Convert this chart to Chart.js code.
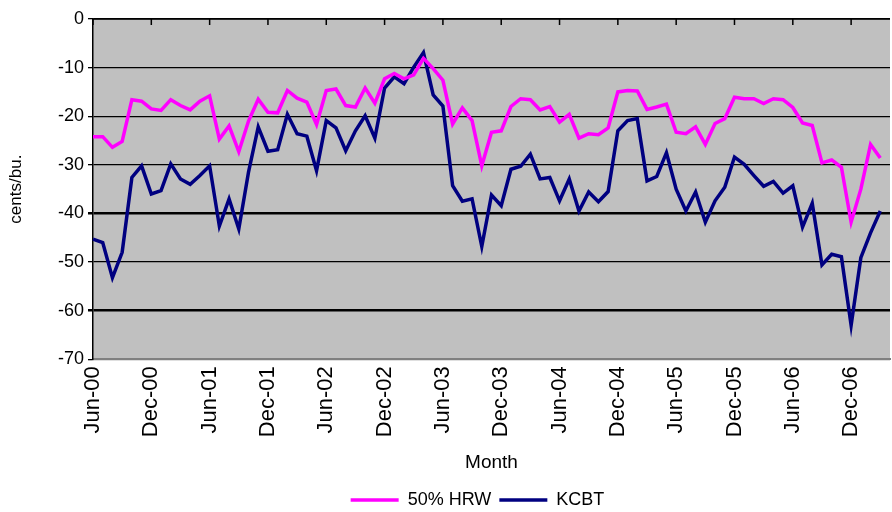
<!DOCTYPE html>
<html>
<head>
<meta charset="utf-8">
<script src="https://cdn.jsdelivr.net/npm/chart.js@4.4.1/dist/chart.umd.min.js"></script>
<style>
  html, body { margin: 0; padding: 0; background: #fff; }
</style>
</head>
<body>
<canvas id="myChart" width="892" height="512"></canvas>
<script>
// monthly categories, Jun-00 .. Apr-07 (last one has no data, it closes the axis)
const months = [
    "Jun-00","Jul-00","Aug-00","Sep-00","Oct-00","Nov-00","Dec-00",
    "Jan-01","Feb-01","Mar-01","Apr-01","May-01","Jun-01","Jul-01","Aug-01","Sep-01","Oct-01","Nov-01","Dec-01",
    "Jan-02","Feb-02","Mar-02","Apr-02","May-02","Jun-02","Jul-02","Aug-02","Sep-02","Oct-02","Nov-02","Dec-02",
    "Jan-03","Feb-03","Mar-03","Apr-03","May-03","Jun-03","Jul-03","Aug-03","Sep-03","Oct-03","Nov-03","Dec-03",
    "Jan-04","Feb-04","Mar-04","Apr-04","May-04","Jun-04","Jul-04","Aug-04","Sep-04","Oct-04","Nov-04","Dec-04",
    "Jan-05","Feb-05","Mar-05","Apr-05","May-05","Jun-05","Jul-05","Aug-05","Sep-05","Oct-05","Nov-05","Dec-05",
    "Jan-06","Feb-06","Mar-06","Apr-06","May-06","Jun-06","Jul-06","Aug-06","Sep-06","Oct-06","Nov-06","Dec-06",
    "Jan-07","Feb-07","Mar-07","Apr-07"
];
const tickLabels = ["Jun-00","Dec-00","Jun-01","Dec-01","Jun-02","Dec-02","Jun-03",
    "Dec-03","Jun-04","Dec-04","Jun-05","Dec-05","Jun-06","Dec-06"];

// cents/bu.
const hrw50 = [
    -24.2,-24.2,-26.4,-25.2,-16.6,-16.9,-18.5,-18.8,-16.6,-17.8,-18.7,-16.9,-15.8,-24.7,-22.0,-27.3,-21.0,-16.5,-19.2,-19.3,
    -14.7,-16.3,-17.1,-21.7,-14.7,-14.4,-17.8,-18.1,-14.2,-17.3,-12.3,-11.2,-12.3,-11.5,-8.1,-10.2,-12.6,-21.6,-18.3,-20.9,
    -30.2,-23.3,-23.0,-18.0,-16.4,-16.6,-18.7,-18.0,-21.2,-19.6,-24.5,-23.6,-23.8,-22.4,-15.0,-14.7,-14.8,-18.6,-18.1,-17.5,
    -23.3,-23.6,-22.2,-25.8,-21.5,-20.5,-16.1,-16.4,-16.4,-17.4,-16.4,-16.6,-18.2,-21.4,-21.9,-29.6,-29.0,-30.5,-41.8,-35.0,
    -25.8,-28.6
];
const kcbt = [
    -45.3,-46.0,-53.2,-48.0,-32.6,-30.2,-36.0,-35.3,-29.8,-32.9,-34.0,-32.2,-30.2,-42.6,-37.0,-43.2,-31.5,-22.2,-27.2,-26.9,
    -19.6,-23.6,-24.1,-31.2,-20.9,-22.4,-27.1,-23.0,-19.9,-24.5,-14.2,-11.9,-13.3,-9.9,-6.9,-15.6,-17.9,-34.3,-37.5,-37.0,
    -46.8,-36.2,-38.4,-30.9,-30.3,-27.8,-32.9,-32.6,-37.4,-32.9,-39.5,-35.6,-37.6,-35.5,-23.0,-20.9,-20.5,-33.3,-32.4,-27.5,
    -35.0,-39.5,-35.6,-41.8,-37.4,-34.6,-28.4,-29.9,-32.2,-34.4,-33.4,-35.8,-34.3,-42.8,-37.9,-50.6,-48.4,-48.9,-63.0,-49.1,
    -44.0,-39.5
];

const font = "'Liberation Sans', Arial, sans-serif";

const plotBg = {
    id: 'plotBg',
    beforeDraw(chart) {
        const {ctx, chartArea: a} = chart;
        ctx.save();
        ctx.fillStyle = '#c0c0c0';
        ctx.fillRect(a.left, a.top, a.right - a.left, a.bottom - a.top);
        ctx.restore();
    }
};

// the category axis crosses at 0, so its tick marks sit on the top edge
const topTicks = {
    id: 'topTicks',
    beforeDatasetsDraw(chart) {
        const {ctx, chartArea: a} = chart;
        const x = chart.scales.x;
        ctx.save();
        ctx.strokeStyle = '#000';
        ctx.lineWidth = 1.5;
        ctx.beginPath();
        ctx.moveTo(a.left, a.top);
        ctx.lineTo(a.right, a.top);
        for (let lab of tickLabels) {
            let px = x.getPixelForValue(months.indexOf(lab));
            ctx.moveTo(px, a.top);
            ctx.lineTo(px, a.top + 6);
        }
        ctx.stroke();
        ctx.restore();
    }
};

// legend sits a bit left of the plot centre in the original
const legendShift = {
    id: 'legendShift',
    afterLayout(chart) {
        chart.legend.left -= 14;
        chart.legend.right -= 14;
    }
};

new Chart(document.getElementById('myChart').getContext('2d'), {
    type: 'line',
    data: {
        labels: months,
        datasets: [{
            label: '50% HRW',
            data: hrw50,
            borderColor: '#ff00ff',
            backgroundColor: '#ff00ff',
            borderWidth: 3.5,
            pointRadius: 0,
            tension: 0
        }, {
            label: 'KCBT',
            data: kcbt,
            borderColor: '#000080',
            backgroundColor: '#000080',
            borderWidth: 3.5,
            pointRadius: 0,
            tension: 0
        }]
    },
    options: {
        responsive: false,
        animation: false,
        devicePixelRatio: 1,
        layout: { padding: { top: 19, right: 2, left: 0, bottom: -7 } },
        plugins: {
            legend: {
                position: 'bottom',
                fullSize: false,
                labels: {
                    usePointStyle: true,
                    pointStyle: 'line',
                    pointStyleWidth: 48,
                    color: '#000',
                    padding: 8,
                    font: { family: font, size: 18 }
                }
            },
            tooltip: { enabled: false }
        },
        scales: {
            x: {
                type: 'category',
                offset: false,
                grid: { display: false, drawTicks: false },
                border: { display: true, color: '#808080', width: 2 },
                ticks: {
                    autoSkip: false,
                    minRotation: 90,
                    maxRotation: 90,
                    padding: 7,
                    color: '#000',
                    font: { family: font, size: 22 },
                    callback: function(val) {
                        let lab = this.getLabelForValue(val);
                        return tickLabels.includes(lab) ? lab : '';
                    }
                },
                title: {
                    display: true,
                    text: 'Month',
                    color: '#000',
                    font: { family: font, size: 19 },
                    padding: { top: 7, bottom: 9 }
                },
                afterFit: s => { s.paddingLeft = 0; s.paddingRight = 0; }
            },
            y: {
                min: -70,
                max: 0,
                ticks: {
                    stepSize: 10,
                    padding: 4,
                    color: '#000',
                    font: { family: font, size: 18 }
                },
                grid: {
                    color: c => c.tick && c.tick.value === -70 ? '#808080' : '#000',
                    lineWidth: c => c.tick && (c.tick.value === -40 || c.tick.value === -60) ? 2.5 : 1.3,
                    tickColor: '#000',
                    tickLength: 5
                },
                border: { display: true, color: '#000', width: 1.5 },
                title: {
                    display: true,
                    text: 'cents/bu.',
                    color: '#000',
                    font: { family: font, size: 17 },
                    padding: { top: 6, bottom: 0 }
                },
                afterFit: s => { s.width = 93; }
            }
        }
    },
    plugins: [plotBg, topTicks, legendShift]
});
</script>
</body>
</html>
